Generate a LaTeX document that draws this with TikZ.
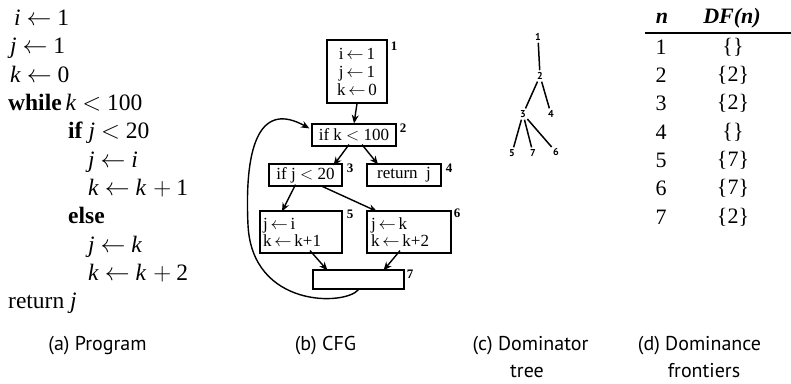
\documentclass[tikz,border=0pt]{standalone}
\usepackage{fontspec}
\setmainfont{Liberation Serif}
\setsansfont{PT Sans}
\usetikzlibrary{arrows.meta}
\newcommand{\la}{\ $\leftarrow$\ }
\newcommand{\lb}{\,$\leftarrow$\,}
\newcommand{\pl}{\hspace{7pt}$+$\hspace{5pt}}
\begin{document}
\begin{tikzpicture}[x=1pt,y=-1pt,
  prog/.style={anchor=base west,inner sep=0pt,font=\fontsize{23.5}{24}\selectfont},
  blk/.style={draw,line width=1.2pt,inner sep=2pt,font=\fontsize{17}{20}\selectfont},
  num/.style={inner sep=0pt,font=\bfseries\fontsize{13}{14}\selectfont},
  cedge/.style={-{Stealth[length=8.5pt,width=7pt]},line width=1.4pt},
  dnode/.style={inner sep=0pt,font=\sffamily\bfseries\fontsize{10}{10}\selectfont},
  dedge/.style={line width=1.5pt,shorten <=2pt,shorten >=2pt},
  tab/.style={inner sep=0pt,font=\fontsize{22}{24}\selectfont},
  captxt/.style={inner sep=0pt,anchor=base,font=\sffamily\fontsize{20}{22}\selectfont}]
\useasboundingbox (0,0) rectangle (791,383);

% (a) Program
\node[prog] (p1) at (14,25) {\textit{i}\la 1};
\node[prog] (p2) at (10,53) {\textit{j}\la 1};
\node[prog] (p3) at (10,82) {\textit{k}\la 0};
\node[prog] (p4) at (8,110) {\textbf{while}\,\textit{k}\ $<$\ 100};
\node[prog] (p5) at (68,138) {\textbf{if}\ \textit{j}\ $<$\ 20};
\node[prog] (p6) at (88,167) {\textit{j}\la\textit{i}};
\node[prog] (p7) at (88,195) {\textit{k}\la\textit{k}\pl 1};
\node[prog] (p8) at (68,223) {\textbf{else}};
\node[prog] (p9) at (88,252) {\textit{j}\la\textit{k}};
\node[prog] (p10) at (88,280) {\textit{k}\la\textit{k}\pl 2};
\node[prog] (p11) at (8,308) {return \textit{j}};

% (b) CFG
\node[blk,minimum width=60pt,minimum height=63pt,align=center,inner sep=1pt] (b1) at (357,71.5)
  {i\lb 1\\[-2pt] j\lb 1\\[-2pt] k\lb 0};
\node[blk,minimum width=84pt,minimum height=22pt,inner sep=1pt] (b2) at (354,135) {if k $<$ 100};
\node[blk,minimum width=73pt,minimum height=22pt,inner sep=1pt] (b3) at (305.5,175) {if j $<$ 20};
\node[blk,minimum width=74pt,minimum height=22pt,inner sep=1pt] (b4) at (404,175) {return\ \ j};
\node[blk,minimum width=82pt,minimum height=42pt,align=left,text width=76pt,inner sep=1pt] (b5) at (301,232)
  {j\lb i\\[-3pt] k\lb k+1};
\node[blk,minimum width=84pt,minimum height=42pt,align=left,text width=76pt,inner sep=1pt] (b6) at (409,232)
  {j\lb k\\[-3pt] k\lb k+2};
\node[blk,minimum width=91pt,minimum height=19pt] (b7) at (358.5,279.5) {};
\node[num] (l1) at (394,46) {1};
\node[num] (l2) at (403,128) {2};
\node[num] (l3) at (350,168) {3};
\node[num] (l4) at (449,168) {4};
\node[num] (l5) at (350,214) {5};
\node[num] (l6) at (457,213) {6};
\node[num] (l7) at (410,274) {7};

\draw[cedge] (b1.south) -- (b2.north);
\draw[cedge] ([xshift=-5pt,yshift=2pt]b2.south) -- ([xshift=28pt,yshift=-2pt]b3.north);
\draw[cedge] ([xshift=8pt,yshift=2pt]b2.south) -- ([xshift=-26pt,yshift=-1pt]b4.north);
\draw[cedge] ([xshift=-10pt,yshift=2pt]b3.south) -- ([xshift=-19pt,yshift=-1pt]b5.north);
\draw[cedge] ([xshift=15pt,yshift=1pt]b3.south) -- ([xshift=-32pt,yshift=-1pt]b6.north);
\draw[cedge] ([xshift=9pt,yshift=3pt]b5.south) -- ([xshift=-31pt,yshift=-1pt]b7.north);
\draw[cedge] ([xshift=-9pt,yshift=3pt]b6.south) -- ([xshift=25pt,yshift=-1pt]b7.north);
\draw[cedge] (b7.south) .. controls (345,306) and (252,308) .. (248,225)
  .. controls (244,140) and (262,102) .. ([xshift=-2pt,yshift=-5pt]b2.north west);

% (c) Dominator tree
\node[dnode] (d1) at (538,37) {1};
\node[dnode] (d2) at (540,76) {2};
\node[dnode] (d3) at (523,114) {3};
\node[dnode] (d4) at (551,114) {4};
\node[dnode] (d5) at (512,153) {5};
\node[dnode] (d7) at (533,153) {7};
\node[dnode] (d6) at (556,152) {6};
\draw[dedge] (d1) -- (d2);
\draw[dedge] (d2) -- (d3);
\draw[dedge] (d2) -- (d4);
\draw[dedge] (d3) -- (d5);
\draw[dedge] (d3) -- (d7);
\draw[dedge] (d3) -- (d6);

% (d) Dominance frontiers
\node[tab] (hn) at (662,18) {\textbf{\textit{n}}};
\node[tab] (hdf) at (732,18) {\textbf{\textit{DF(n)}}};
\coordinate (r1) at (645,33);
\coordinate (r2) at (791,33);
\draw[line width=1.4pt] (r1) -- (r2);
\node[tab] (n1) at (661,47) {1};   \node[tab] (f1) at (733,47) {\{\}};
\node[tab] (n2) at (661,75) {2};   \node[tab] (f2) at (733,75) {\{2\}};
\node[tab] (n3) at (661,103) {3};  \node[tab] (f3) at (733,103) {\{2\}};
\node[tab] (n4) at (661,132) {4};  \node[tab] (f4) at (733,132) {\{\}};
\node[tab] (n5) at (661,160) {5};  \node[tab] (f5) at (733,160) {\{7\}};
\node[tab] (n6) at (661,188) {6};  \node[tab] (f6) at (733,188) {\{7\}};
\node[tab] (n7) at (661,217) {7};  \node[tab] (f7) at (733,217) {\{2\}};

% captions
\node[captxt] (ca) at (97.5,350) {(a) Program};
\node[captxt] (cb) at (325.5,350) {(b) CFG};
\node[captxt] (cc) at (530.5,350) {(c) Dominator};
\node[captxt] (cc2) at (527,377) {tree};
\node[captxt] (cd) at (699.5,350) {(d) Dominance};
\node[captxt] (cd2) at (704,377) {frontiers};
\end{tikzpicture}
\end{document}
